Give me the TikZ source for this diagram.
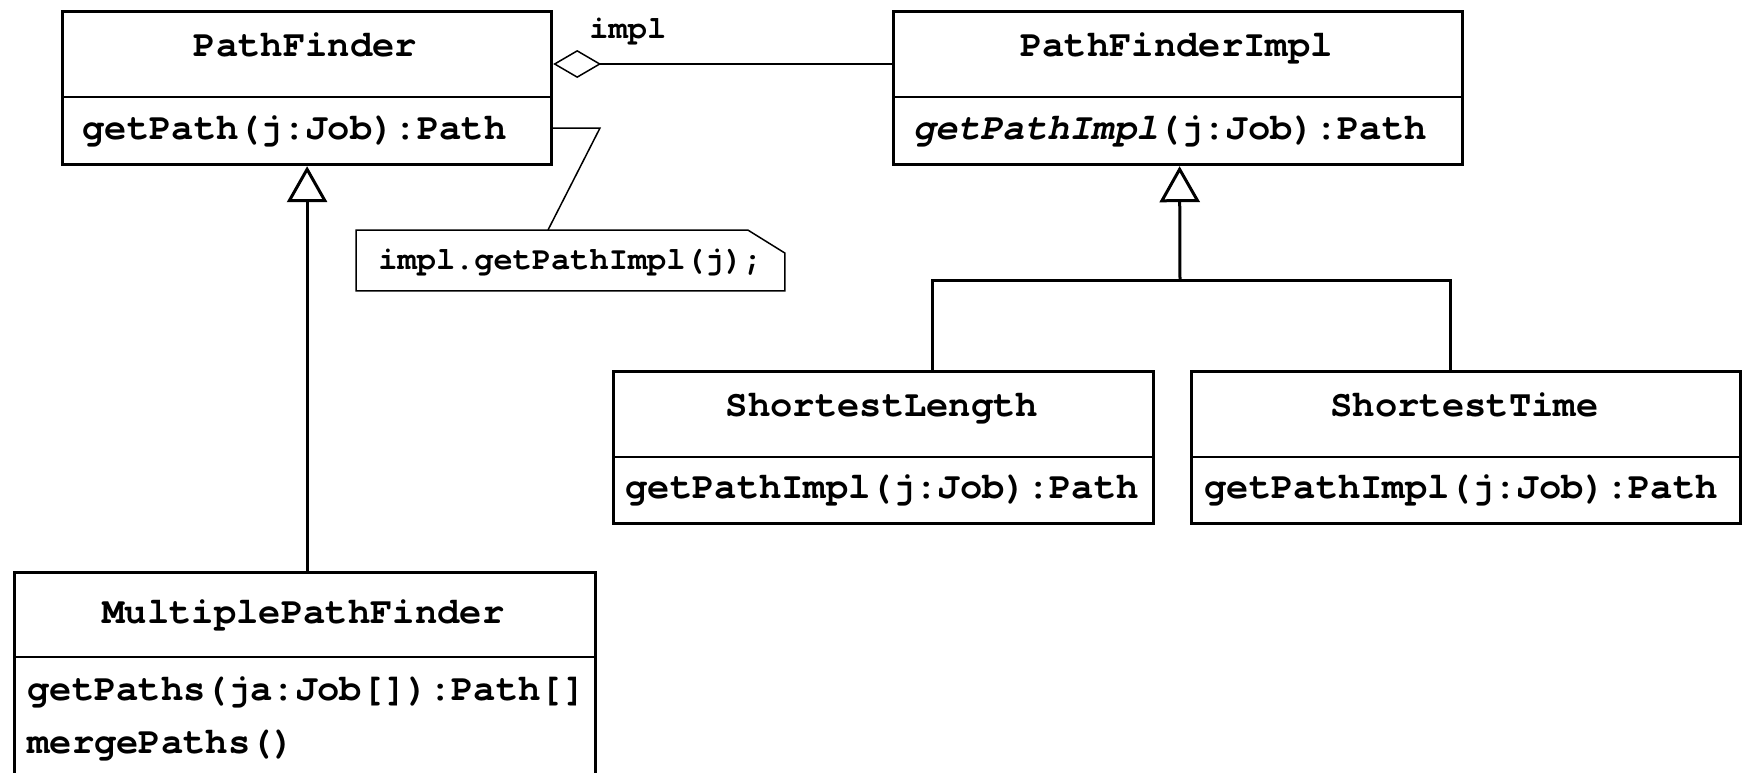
\documentclass[tikz,border=0pt]{standalone}
\usepackage{fontspec}
\setmonofont{texgyrecursor}[Extension=.otf, UprightFont=*-regular, BoldFont=*-bold, ItalicFont=*-italic, BoldItalicFont=*-bolditalic]
\usetikzlibrary{arrows.meta,calc}
\begin{document}
\begin{tikzpicture}[x=0.5pt,y=-0.5pt,
  classbox/.style={draw, line width=1.6pt, inner sep=0pt, anchor=north west},
  divider/.style={line width=1.1pt},
  ctitle/.style={inner sep=0pt, anchor=base, font={\ttfamily\bfseries\fontsize{18.6pt}{22pt}\selectfont}},
  cmeth/.style={inner sep=0pt, anchor=base west, font={\ttfamily\bfseries\fontsize{18.6pt}{22pt}\selectfont}},
  notetext/.style={inner sep=0pt, anchor=base west, font={\ttfamily\bfseries\fontsize{16pt}{19pt}\selectfont}},
  notebox/.style={inner sep=0pt, minimum width=214pt, minimum height=30pt, anchor=north west},
  gen/.style={line width=1.5pt, -{Triangle[open, length=18pt, width=20pt]}},
  aggr/.style={line width=0.75pt, -{Diamond[open, length=24pt, width=14pt]}},
  thinline/.style={line width=0.75pt},
  hier/.style={line width=1.5pt},
]
\clip (0,0) rectangle (1742,772);
\fill[white] (0,0) rectangle (1742,772);

% class PathFinder
\node[classbox, minimum width=244.5pt, minimum height=76.5pt] (pf) at (61,10) {};
\draw[divider] (61,97) -- (550,97);
\node[ctitle] (pft) at (305.5,56) {PathFinder};
\node[cmeth] (pfm) at (82,139) {getPath(j:Job):Path};

% class PathFinderImpl
\node[classbox, minimum width=284.5pt, minimum height=76.5pt] (pfi) at (892,10) {};
\draw[divider] (892,97) -- (1461,97);
\node[ctitle] (pfit) at (1176.5,56) {PathFinderImpl};
\node[cmeth] (pfim) at (913,139) {{\itshape getPathImpl}(j:Job):Path};

% class ShortestLength
\node[classbox, minimum width=270pt, minimum height=76pt] (sl) at (612,370) {};
\draw[divider] (612,457) -- (1152,457);
\node[ctitle] (slt) at (882,416) {ShortestLength};
\node[cmeth] (slm) at (625,498) {getPathImpl(j:Job):Path};

% class ShortestTime
\node[classbox, minimum width=274.5pt, minimum height=76pt] (st) at (1190,370) {};
\draw[divider] (1190,457) -- (1739,457);
\node[ctitle] (stt) at (1464.5,416) {ShortestTime};
\node[cmeth] (stm) at (1204,498) {getPathImpl(j:Job):Path};

% class MultiplePathFinder (runs past the lower edge)
\node[classbox, minimum width=290.5pt, minimum height=115pt] (mpf) at (13,571) {};
\draw[divider] (13,657) -- (594,657);
\node[ctitle] (mpft) at (303.5,623) {MultiplePathFinder};
\node[cmeth] (mpfm1) at (27,700) {getPaths(ja:Job[]):Path[]};
\node[cmeth] (mpfm2) at (27,753) {mergePaths()};

% note with cut corner
\node[notebox] (note) at (356,230) {};
\draw[thinline] (note.north west) -- ($(note.north east)+(-37,0)$)
  -- ($(note.north east)+(0,23)$) -- (note.south east) -- (note.south west) -- cycle;
\node[notetext] (notet) at (378,269) {impl.getPathImpl(j);};

% note link
\coordinate (nbend) at (600,128);
\draw[thinline] (pf.east |- nbend) -- (nbend) -- ($(note.north west)+(192,0)$);

% aggregation
\coordinate (aggy) at (0,64);
\draw[aggr] (pfi.west |- aggy) -- (pf.east |- aggy);
\node[notetext] (impl) at (589,38) {impl};

% generalizations
\draw[gen] ($(mpf.north)+(2,0)$) -- (pf.south);
\coordinate (join) at (1180,280);
\draw[gen] (join) -- ($(pfi.south)+(1.5,0)$);
\draw[hier] ($(sl.north)+(49,0)$) |- (join) -| ($(st.north)+(-15.5,0)$);
\end{tikzpicture}
\end{document}
